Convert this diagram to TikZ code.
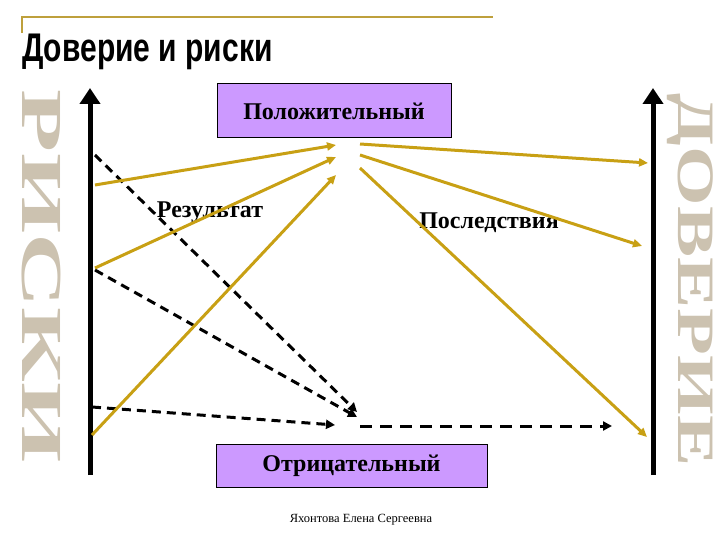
\documentclass[tikz,border=0pt]{standalone}
\usepackage{fontspec}
\setmainfont{Liberation Serif}
\newfontfamily\titlefont{Liberation Sans}
\usetikzlibrary{arrows.meta}
\definecolor{gold}{RGB}{200,160,20}
\definecolor{lineGold}{RGB}{190,160,60}
\definecolor{boxfill}{RGB}{204,153,255}
\definecolor{wordart}{RGB}{204,194,176}
\begin{document}
\begin{tikzpicture}[x=1pt,y=-1pt,
 goldarrow/.style={draw=gold, line width=3pt, -{Triangle[length=9pt,width=8pt]}},
 dasharrow/.style={draw=black, line width=3pt, dash pattern=on 9pt off 6pt, -{Triangle[length=9pt,width=9pt]}},
 axisarrow/.style={draw=black, line width=5pt, -{Triangle[length=16pt,width=20pt]}},
 box/.style={draw=black, line width=1pt, fill=boxfill, inner sep=0pt, font=\bfseries\fontsize{24}{26}\selectfont},
 lbl/.style={font=\bfseries\fontsize{24}{26}\selectfont, inner sep=0pt},
 wa/.style={text=wordart, inner sep=0pt, rotate=-90, font=\bfseries}
]
\useasboundingbox (0,0) rectangle (720,540);
\draw[lineGold, line width=2pt] (22,33) -- (22,17) -- (493,17);
\node[anchor=base west, inner sep=0pt] (title) at (22,62) {\titlefont\bfseries\fontsize{40}{42}\selectfont\scalebox{0.75}[1]{Доверие и риски}};

% word art
\node[wa] (riski) at (41.5,276.5) {\resizebox*{373pt}{39pt}{РИСКИ}};
\node[wa] (doverie) at (690,280) {\resizebox*{372pt}{46pt}{ДОВЕРИЕ}};

% axes
\coordinate (L0) at (90,475); \coordinate (L1) at (90,88);
\coordinate (R0) at (653,475); \coordinate (R1) at (653,88);
\draw[axisarrow] (L0) -- (L1);
\draw[axisarrow] (R0) -- (R1);

% boxes
\node[box, minimum width=234pt, minimum height=54pt] (pos) at (334,111) {Положительный};
\node[box, minimum width=271pt, minimum height=43pt] (neg) at (351.5,465.5) {Отрицательный};

% labels
\node[lbl] (res) at (210,212) {Результат};
\node[lbl] (cons) at (489,223) {Последствия};
\node[font=\fontsize{12.5}{14}\selectfont, inner sep=0pt] (auth) at (361,520) {Яхонтова Елена Сергеевна};

% dashed arrows
\coordinate (d1s) at (95,155); \coordinate (d1e) at (357,412);
\coordinate (d2s) at (95,270); \coordinate (d2e) at (357,417);
\coordinate (d3s) at (92,407); \coordinate (d3e) at (335,425);
\coordinate (d4s) at (360,426); \coordinate (d4e) at (612,426);
\draw[dasharrow] (d1s) -- (d1e);
\draw[dasharrow] (d2s) -- (d2e);
\draw[dasharrow] (d3s) -- (d3e);
\draw[dasharrow, dash pattern=on 12pt off 8pt] (d4s) -- (d4e);

% gold arrows
\coordinate (g1s) at (95,185); \coordinate (g1e) at (336,145);
\coordinate (g2s) at (95,268); \coordinate (g2e) at (336,157);
\coordinate (g3s) at (92,435); \coordinate (g3e) at (336,175);
\coordinate (g4s) at (360,144); \coordinate (g4e) at (648,163);
\coordinate (g5s) at (360,155); \coordinate (g5e) at (642,246);
\coordinate (g6s) at (360,168); \coordinate (g6e) at (647,437);
\draw[goldarrow] (g1s) -- (g1e);
\draw[goldarrow] (g2s) -- (g2e);
\draw[goldarrow] (g3s) -- (g3e);
\draw[goldarrow] (g4s) -- (g4e);
\draw[goldarrow] (g5s) -- (g5e);
\draw[goldarrow] (g6s) -- (g6e);
\end{tikzpicture}
\end{document}
